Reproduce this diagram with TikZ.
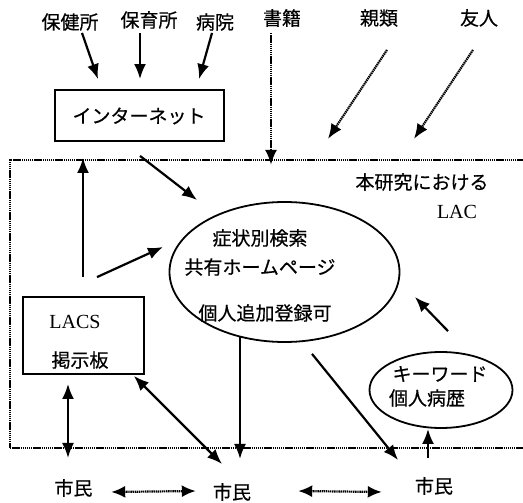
\documentclass[tikz,border=0pt]{standalone}
\usepackage{fontspec}
\setmainfont{Liberation Serif}
\newfontfamily\jp[FakeBold=0.5]{Noto Sans CJK JP}
\usetikzlibrary{arrows.meta,calc,shapes.geometric}
\begin{document}
\begin{tikzpicture}[x=1pt,y=1pt,
  txt/.style={inner sep=0pt,font=\jp\fontsize{19}{21}\selectfont},
  lat/.style={inner sep=0pt,font=\fontsize{20}{22}\selectfont},
  arr/.style={line width=2.2pt,-{Latex[length=15pt,width=12pt]}},
  darr/.style={line width=2.2pt,{Latex[length=15pt,width=12pt]}-{Latex[length=15pt,width=12pt]}},
  dotarr/.style={line width=2.2pt,dash pattern=on 1.4pt off 0.7pt,-{Latex[length=15pt,width=12pt]}},
  ddotarr/.style={line width=2.2pt,dash pattern=on 1.4pt off 0.7pt,{Latex[length=14pt,width=12pt]}-{Latex[length=14pt,width=12pt]}},
  box/.style={draw,line width=1.8pt,inner sep=0pt},
  ell/.style={draw,ellipse,line width=1.8pt,inner sep=0pt}
]
\useasboundingbox (0,0) rectangle (523,-503);
% frame
\node[draw,line width=2.2pt,dash pattern=on 1.4pt off 0.7pt,minimum width=525pt,minimum height=288pt,inner sep=0pt] (lac) at (272.5,-304) {};
% top labels
\node[txt] (hoken) at (70,-22) {保健所};
\node[txt] (hoiku) at (149,-20) {保育所};
\node[txt] (byoin) at (215,-22) {病院};
\node[txt] (shoseki) at (282,-18) {書籍};
\node[txt] (shinrui) at (379,-18) {親類};
\node[txt] (yujin) at (479,-18) {友人};
% internet
\node[box,minimum width=169pt,minimum height=51pt] (net) at (139.5,-115.5) {};
\node[txt] (nettxt) at (139,-116) {インターネット};
% LACS
\node[box,minimum width=121pt,minimum height=77pt] (lacs) at (83.5,-335.5) {};
\node[lat] (lacstxt) at (75,-322) {LACS};
\node[txt] (keiji) at (80,-360) {掲示板};
% main ellipse
\node[ell,minimum width=230pt,minimum height=140pt] (hp) at (284.5,-272) {};
\node[txt] (t1) at (260,-238) {症状別検索};
\node[txt] (t2) at (260,-267) {共有ホームページ};
\node[txt] (t3) at (265,-313) {個人追加登録可};
% title
\node[txt] (title) at (422,-182) {本研究における};
\node[lat] (lactxt) at (457,-212) {LAC};
% keyword ellipse
\node[ell,minimum width=143pt,minimum height=76pt] (kw) at (441,-390) {};
\node[txt] (k1) at (440,-374) {キーワード};
\node[txt] (k2) at (427,-398) {個人病歴};
% citizens
\node[txt] (s1) at (73.5,-488) {市民};
\node[txt] (s2) at (232,-492) {市民};
\node[txt] (s3) at (434,-486) {市民};
% connectors
\draw[arr] ([xshift=12pt,yshift=-2pt]hoken.south) -- ([xshift=-41.5pt,yshift=10pt]net.north);
\draw[arr] ([xshift=-9pt,yshift=-4pt]hoiku.south) -- ([xshift=0.5pt,yshift=10pt]net.north);
\draw[arr] ([xshift=-3pt,yshift=-2pt]byoin.south) -- ([xshift=59.5pt,yshift=10pt]net.north);
\draw[dotarr] ([xshift=-11pt,yshift=-6pt]shoseki.south) -- ([xshift=-1.5pt,yshift=-6pt]lac.north);
\draw[dotarr] ([xshift=8pt,yshift=-23pt]shinrui.south) -- ([xshift=55.5pt,yshift=20pt]lac.north);
\draw[dotarr] ([xshift=-6pt,yshift=-23pt]yujin.south) -- ([xshift=141.5pt,yshift=20pt]lac.north);
\draw[arr] ([xshift=-0.5pt,yshift=19pt]lacs.north) -- ([xshift=-56.5pt,yshift=-16pt]net.south);
\draw[arr] ([xshift=0.5pt,yshift=-14pt]net.south) -- ([xshift=-87.5pt,yshift=72pt]hp.center);
\draw[arr] ([xshift=13.5pt,yshift=19pt]lacs.north) -- ([xshift=-121.5pt,yshift=25pt]hp.center);
\draw[arr] ([xshift=7pt,yshift=20pt]kw.north) -- ([xshift=130.5pt,yshift=-25pt]hp.center);
\draw[arr] ([xshift=-44.5pt,yshift=5.5pt]hp.south) -- ([xshift=8pt,yshift=24pt]s2.north);
\draw[darr] ([xshift=-15.5pt,yshift=-9pt]lacs.south) -- ([xshift=-5.5pt,yshift=21pt]s1.north);
\draw[darr] ([xshift=-11pt,yshift=-1pt]lacs.south east) -- ([xshift=-10pt,yshift=19pt]s2.north);
\draw[arr] ([xshift=27.5pt,yshift=-11pt]hp.south) -- ([xshift=-36pt,yshift=17pt]s3.north);
\draw[arr] ([xshift=-6pt,yshift=19pt]s3.north) -- ([xshift=-13pt]kw.south);
\draw[ddotarr] ([xshift=18.5pt,yshift=-4pt]s1.east) -- ([xshift=-17pt,yshift=1pt]s2.west);
\draw[ddotarr] ([xshift=47pt,yshift=1pt]s2.east) -- ([xshift=-33pt,yshift=-6pt]s3.west);
\end{tikzpicture}
\end{document}
